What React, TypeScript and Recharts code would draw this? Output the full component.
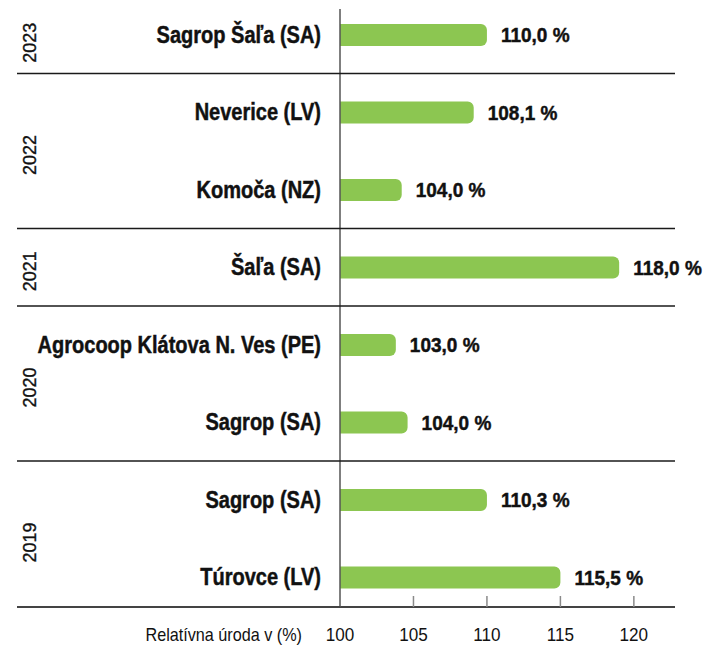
import React from 'react';
import { BarChart, Bar, XAxis, YAxis, LabelList } from 'recharts';

const categories = [
  'Sagrop Šaľa (SA)',
  'Neverice (LV)',
  'Komoča (NZ)',
  'Šaľa (SA)',
  'Agrocoop Klátova N. Ves (PE)',
  'Sagrop (SA)',
  'Sagrop (SA)',
  'Túrovce (LV)',
];
const years = [2023, 2022, 2022, 2021, 2020, 2020, 2019, 2019];
// bar lengths as drawn in the picture
const barValues = [110.0, 109.1, 104.2, 119.0, 103.8, 104.6, 110.0, 115.0];
// values printed in the labels
const labelValues = [110.0, 108.1, 104.0, 118.0, 103.0, 104.0, 110.3, 115.5];
const xTicks = [100, 105, 110, 115, 120];
const xDomainMax = 122.8;
const axisTitle = 'Relatívna úroda v (%)';

const data = categories.map((name, i) => ({
  key: `${years[i]}-${name}`,
  name,
  year: years[i],
  value: barValues[i],
  label: labelValues[i],
}));

const W = 709;
const H = 645;
const MARGIN = { top: 9, right: 34, bottom: 0, left: 0 };
const Y_AXIS_W = 340;
const X_AXIS_H = 38;
const LINE_LEFT = 17;
const LINE_RIGHT = W - MARGIN.right;
const SANS = "'Liberation Sans', Arial, sans-serif";
const GREEN = '#8cc651';

const fmt = (v: number) => `${v.toFixed(1).replace('.', ',')} %`;

function NarrowText(props: {
  x: number;
  y: number;
  anchor: 'start' | 'middle' | 'end';
  size: number;
  scale: number;
  bold?: boolean;
  dy?: string;
  children: React.ReactNode;
}) {
  const { x, y, anchor, size, scale, bold, dy, children } = props;
  return (
    <text
      transform={`translate(${x},${y}) scale(${scale},1)`}
      x={0}
      y={0}
      dy={dy}
      textAnchor={anchor}
      fontFamily={SANS}
      fontWeight={bold ? 'bold' : 'normal'}
      fontSize={size}
      fill="#111"
      stroke={bold ? '#111' : 'none'}
      strokeWidth={bold ? 0.45 : 0}
    >
      {children}
    </text>
  );
}

function YTick(props: any) {
  const { x, y, payload } = props;
  const i: number = payload.index ?? props.index;
  const off: number = payload.offset ?? 38.7;
  const yr = years[i];
  const isGroupStart = i === 0 || years[i - 1] !== yr;
  let groupSize = 0;
  for (let k = i; k < years.length && years[k] === yr; k++) groupSize++;
  let groupCenter = y - off + groupSize * off + 4;
  if (i === 0) groupCenter += 4;
  return (
    <g>
      {isGroupStart && i > 0 && (
        <line x1={LINE_LEFT} x2={LINE_RIGHT} y1={y - off} y2={y - off} stroke="#1a1a1a" strokeWidth={1.3} />
      )}
      {isGroupStart && (
        <text
          x={29.7}
          y={groupCenter}
          transform={`rotate(-90, 29.7, ${groupCenter})`}
          textAnchor="middle"
          dy="0.355em"
          fontFamily={SANS}
          fontSize={18}
          fill="#111"
          stroke="#111"
          strokeWidth={0.35}
        >
          {yr}
        </text>
      )}
      <NarrowText x={x} y={y} dy="0.355em" anchor="end" size={23} scale={0.87} bold>
        {categories[i]}
      </NarrowText>
    </g>
  );
}

function XTick(props: any) {
  const { x, y, payload, index } = props;
  const i: number = payload.index ?? index;
  return (
    <g>
      {i === 0 && (
        <>
          <line x1={LINE_LEFT} x2={x} y1={y} y2={y} stroke="#444" strokeWidth={2} />
          <NarrowText x={302} y={y + 34} anchor="end" size={18} scale={0.9}>
            {axisTitle}
          </NarrowText>
        </>
      )}
      {i > 0 && <line x1={x} x2={x} y1={y} y2={y - 11} stroke="#8a8a8a" strokeWidth={1.5} />}
      <NarrowText x={x} y={y + 34} anchor="middle" size={19} scale={0.9}>
        {payload.value}
      </NarrowText>
    </g>
  );
}

function ValueLabel(props: any) {
  const { x, y, width, height, value } = props;
  return (
    <NarrowText x={x + width + 14} y={y + height / 2} dy="0.355em" anchor="start" size={20} scale={0.95} bold>
      {fmt(Number(value))}
    </NarrowText>
  );
}

export default function App() {
  return (
    <div style={{ position: 'absolute', left: 0, top: 0, background: '#fff' }}>
      <BarChart width={W} height={H} data={data} layout="vertical" margin={MARGIN}>
        <XAxis
          type="number"
          domain={[100, xDomainMax]}
          ticks={xTicks}
          allowDataOverflow
          height={X_AXIS_H}
          tickSize={0}
          tickMargin={0}
          tickLine={false}
          axisLine={{ stroke: '#444', strokeWidth: 2 }}
          tick={<XTick />}
          interval={0}
        />
        <YAxis
          type="category"
          dataKey="key"
          width={Y_AXIS_W}
          padding={{ top: -13, bottom: -9 }}
          tickSize={0}
          tickMargin={19}
          tickLine={false}
          axisLine={{ stroke: '#555', strokeWidth: 1.5 }}
          tick={<YTick />}
          interval={0}
        />
        <Bar dataKey="value" fill={GREEN} barSize={22} radius={[0, 6, 6, 0]} isAnimationActive={false}>
          <LabelList dataKey="label" content={<ValueLabel />} />
        </Bar>
      </BarChart>
    </div>
  );
}
